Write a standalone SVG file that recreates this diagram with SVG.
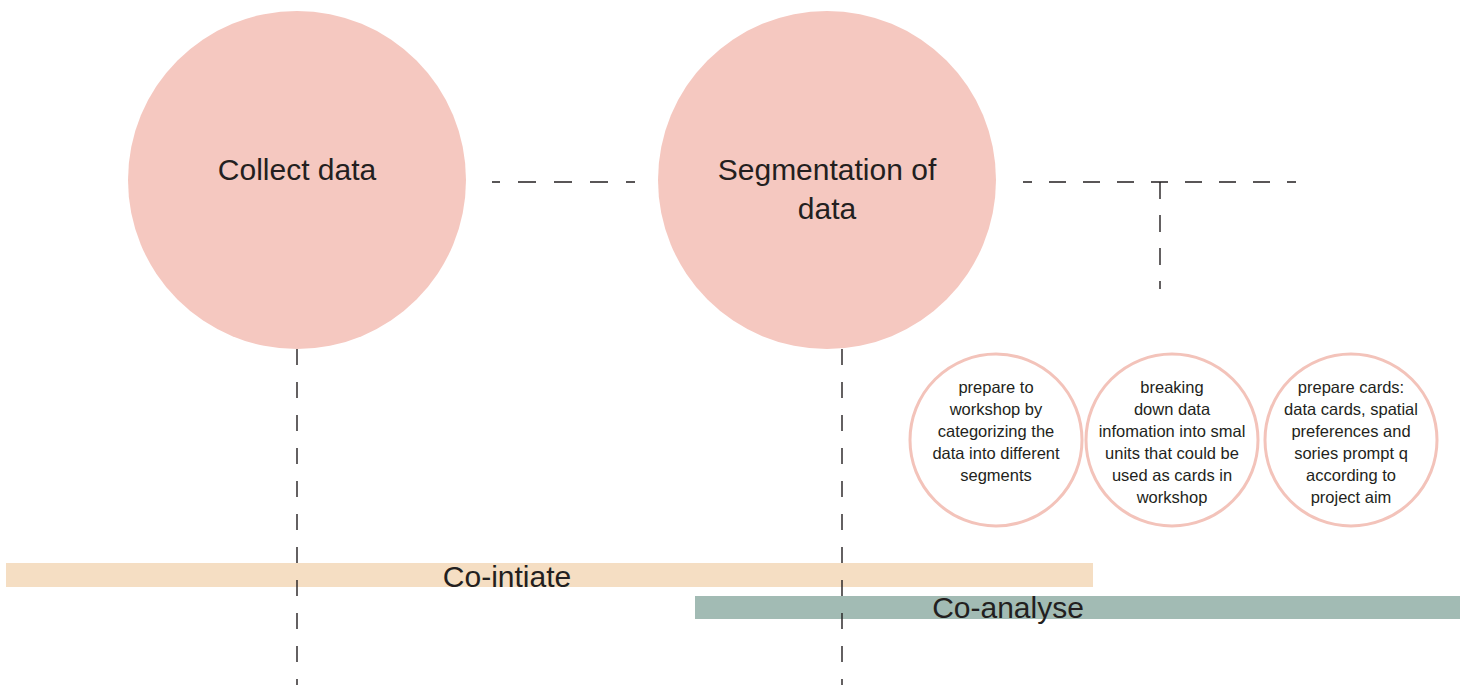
<svg xmlns="http://www.w3.org/2000/svg" width="1468" height="685" viewBox="0 0 1468 685">
  <style>
    .big { fill: #F5C8C0; }
    .small { fill: #FFFFFF; stroke: #F3C3BA; stroke-width: 3; }
    .dash { fill: none; stroke: #231F20; stroke-width: 1.4; }
    .title { font-family: "Liberation Sans", Arial, sans-serif; font-size: 30px; fill: #231F20; text-anchor: middle; }
    .note { font-family: "Liberation Sans", Arial, sans-serif; font-size: 16.5px; fill: #231F20; text-anchor: middle; }
    .bar { font-family: "Liberation Sans", Arial, sans-serif; font-size: 30px; fill: #231F20; text-anchor: middle; }
  </style>

  <!-- phase bars -->
  <g id="phase-cointiate">
    <rect x="6" y="563" width="1087" height="24" fill="#F5DEC3"/>
    <text class="bar" x="507" y="587">Co-intiate</text>
  </g>
  <g id="phase-coanalyse">
    <rect x="695" y="596" width="765" height="23" fill="#A2BBB4"/>
    <text class="bar" x="1008" y="618">Co-analyse</text>
  </g>

  <!-- main steps -->
  <g id="collect-data">
    <circle class="big" cx="297" cy="180" r="169"/>
    <text class="title" x="297" y="180">Collect data</text>
  </g>
  <g id="segmentation">
    <circle class="big" cx="827" cy="180" r="169"/>
    <text class="title" x="827" y="180">Segmentation of</text>
    <text class="title" x="827" y="219">data</text>
  </g>

  <!-- sub-steps -->
  <g id="step-categorize">
    <circle class="small" cx="996" cy="440" r="86"/>
    <text class="note" x="996" y="393">prepare to</text>
    <text class="note" x="996" y="415">workshop by</text>
    <text class="note" x="996" y="437">categorizing the</text>
    <text class="note" x="996" y="459">data into different</text>
    <text class="note" x="996" y="481">segments</text>
  </g>
  <g id="step-breakdown">
    <circle class="small" cx="1172" cy="440" r="86"/>
    <text class="note" x="1172" y="393">breaking</text>
    <text class="note" x="1172" y="415">down data</text>
    <text class="note" x="1172" y="437">infomation into smal</text>
    <text class="note" x="1172" y="459">units that could be</text>
    <text class="note" x="1172" y="481">used as cards in</text>
    <text class="note" x="1172" y="503">workshop</text>
  </g>
  <g id="step-cards">
    <circle class="small" cx="1351" cy="440" r="86"/>
    <text class="note" x="1351" y="393">prepare cards:</text>
    <text class="note" x="1351" y="415">data cards, spatial</text>
    <text class="note" x="1351" y="437">preferences and</text>
    <text class="note" x="1351" y="459">sories prompt q</text>
    <text class="note" x="1351" y="481">according to</text>
    <text class="note" x="1351" y="503">project aim</text>
  </g>

  <!-- connectors -->
  <g id="connectors">
    <line class="dash" x1="492" y1="182" x2="636" y2="182" stroke-dasharray="8 18 18 18 18 18 18 18 9"/>
    <line class="dash" x1="1023" y1="182" x2="1298" y2="182" stroke-dasharray="9 17 17 17 17 17 17 17 17 17 17 17 17 17 17 17 9"/>
    <line class="dash" x1="1160" y1="182" x2="1160" y2="289" stroke-dasharray="17 16"/>
    <line class="dash" x1="297" y1="349" x2="297" y2="685" stroke-dasharray="16 17"/>
    <line class="dash" x1="842" y1="349" x2="842" y2="685" stroke-dasharray="16 17"/>
  </g>
</svg>
